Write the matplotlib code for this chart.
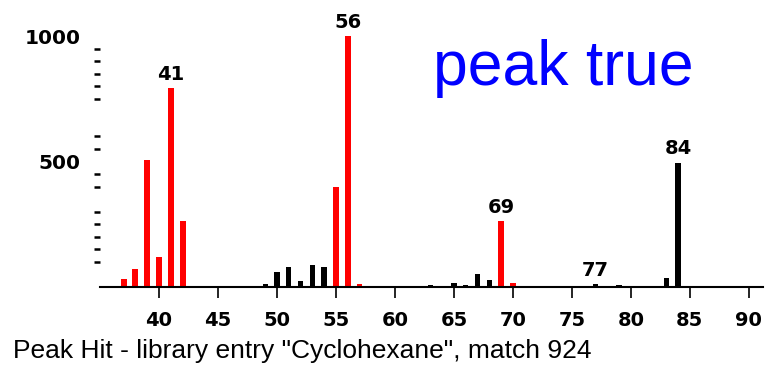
import numpy as np
from matplotlib import pyplot as plt

# ion masses (m/z) and relative abundances, library hits drawn in red
mz_hit = [37, 38, 39, 40, 41, 42, 55, 56, 57, 69, 70]
ab_hit = [32, 72, 506, 120, 793, 263, 400, 1000, 12, 263, 16]

mz_other = [49, 50, 51, 52, 53, 54, 63, 65, 66, 67, 68, 77, 79, 83, 84]
ab_other = [12, 60, 80, 24, 87, 80, 8, 16, 8, 52, 28, 12, 8, 36, 496]

labelled = [41, 56, 69, 77, 84]
x_ticks = list(range(40, 95, 5))
y_labels = [500, 1000]
y_minor = [100, 150, 200, 250, 300, 400, 450, 550, 600, 750, 800, 850, 900, 950]

caption = 'Peak Hit - library entry "Cyclohexane", match 924'

W, H = 767, 366
fig = plt.figure(figsize=(W / 100, H / 100), dpi=100)
ax = fig.add_axes([100 / W, 79 / H, 663 / W, 251 / H])

ax.bar(mz_hit, ab_hit, width=0.5, color='#ff0000', clip_on=False)
ax.bar(mz_other, ab_other, width=0.45, color='black', clip_on=False)

mz_all = mz_hit + mz_other
ab_all = ab_hit + ab_other
for m in labelled:
    a = ab_all[mz_all.index(m)]
    ax.annotate(str(m), (m, a), xytext=(0, 3), textcoords='offset points',
                ha='center', va='bottom', fontsize=14, fontweight='bold',
                family='DejaVu Sans')

ax.set_xlim(35, 91.2)
ax.set_ylim(0, 1000)

for s in ['top', 'right', 'left']:
    ax.spines[s].set_visible(False)
ax.spines['bottom'].set_linewidth(1.5)

ax.set_xticks(x_ticks)
ax.set_xticklabels([str(t) for t in x_ticks], fontsize=14, fontweight='bold')
ax.tick_params(axis='x', direction='out', length=8, width=1.2, pad=9)

ax.set_yticks(y_labels)
ax.set_yticklabels([str(t) for t in y_labels], fontsize=14.5, fontweight='bold')
ax.set_yticks(y_minor, minor=True)
ax.tick_params(axis='y', which='major', length=0, pad=14)
ax.tick_params(axis='y', which='minor', direction='out', length=4.5, width=1.8)

fig.text(433 / W, (H - 85) / H, 'peak true', color='#0000ff', fontsize=45,
         family='Liberation Sans', va='baseline', ha='left')
fig.text(13 / W, (H - 358) / H, caption, fontsize=19, family='Liberation Sans',
         va='baseline', ha='left')

fig.savefig('out.png', dpi=100)
